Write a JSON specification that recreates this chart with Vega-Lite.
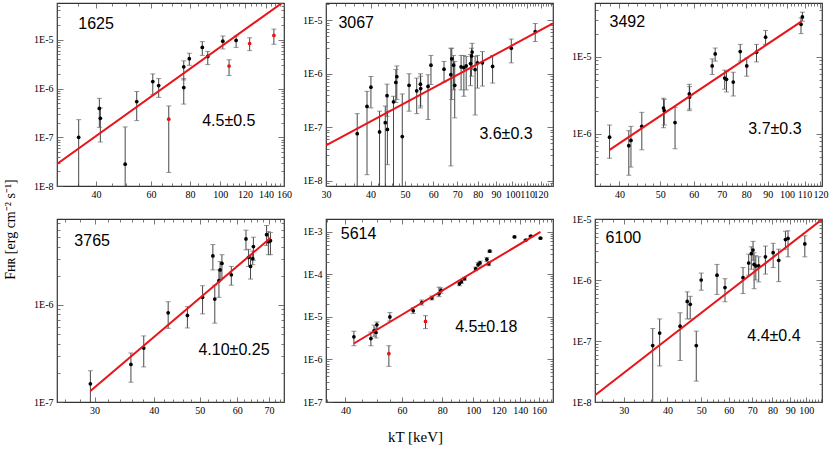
{
"$schema": "https://vega.github.io/schema/vega-lite/v6.json",
"padding": {"left": 2, "top": -2, "right": 0, "bottom": 0},
"bounds": "flush",
"columns": 3,
"spacing": {"row": 33, "column": 42},
"title": {"text": "kT [keV]", "orient": "bottom", "anchor": "middle", "font": "Liberation Serif", "fontSize": 15, "fontWeight": "normal", "color": "#000", "offset": 12},
"config": {
 "view": {"stroke": "#333", "strokeWidth": 1.2},
 "axis": {"domain": false, "grid": false, "labelFont": "Liberation Serif", "labelFontSize": 10, "labelColor": "#000", "tickColor": "#555", "tickWidth": 0.8, "labelOverlap": false, "labelFlush": false, "labelBound": false},
 "axisBottom": {"labelPadding": 8},
 "axisLeft": {"labelPadding": 10}
},
"concat": [
{
 "width": 227, "height": 183,
 "resolve": {"axis": {"x": "independent", "y": "independent"}},
 "data": {"values": [
  {"x":35.2,"y":1.0e-7,"lo":1e-9,"hi":2.3e-7,"c":"k"},
  {"x":41.0,"y":3.9e-7,"lo":1.6e-7,"hi":6.3e-7,"c":"k"},
  {"x":41.3,"y":2.45e-7,"lo":8e-8,"hi":4.0e-7,"c":"k"},
  {"x":49.6,"y":2.8e-8,"lo":1e-9,"hi":1.63e-7,"c":"k"},
  {"x":54.0,"y":5.4e-7,"lo":2.2e-7,"hi":8.7e-7,"c":"k"},
  {"x":60.8,"y":1.39e-6,"lo":7.5e-7,"hi":2.0e-6,"c":"k"},
  {"x":63.5,"y":1.15e-6,"lo":6.6e-7,"hi":1.6e-6,"c":"k"},
  {"x":76.4,"y":2.8e-6,"lo":1.5e-6,"hi":3.7e-6,"c":"k"},
  {"x":76.4,"y":1.05e-6,"lo":4.8e-7,"hi":1.6e-6,"c":"k"},
  {"x":79.6,"y":4.1e-6,"lo":3.0e-6,"hi":5.3e-6,"c":"k"},
  {"x":87.6,"y":7.0e-6,"lo":4.8e-6,"hi":9.2e-6,"c":"k"},
  {"x":91.2,"y":4.55e-6,"lo":3.1e-6,"hi":5.8e-6,"c":"k"},
  {"x":101.9,"y":9.4e-6,"lo":6.5e-6,"hi":1.2e-5,"c":"k"},
  {"x":112.4,"y":9.7e-6,"lo":7.0e-6,"hi":1.2e-5,"c":"k"},
  {"x":68.4,"y":2.35e-7,"lo":1.9e-8,"hi":4.4e-7,"c":"r"},
  {"x":106.7,"y":2.9e-6,"lo":1.85e-6,"hi":3.9e-6,"c":"r"},
  {"x":124.2,"y":8.4e-6,"lo":6.0e-6,"hi":1.1e-5,"c":"r"},
  {"x":148.5,"y":1.23e-5,"lo":8.1e-6,"hi":1.66e-5,"c":"r"}
 ]},
 "encoding": {"x": {"field": "x", "type": "quantitative", "scale": {"type": "log", "domain": [30, 160], "nice": false}, "axis": null}},
 "layer": [
  {"mark": {"type": "rule", "clip": true, "color": "#333", "strokeWidth": 0.9},
   "encoding": {
    "x": {"field": "x", "type": "quantitative", "scale": {"type": "log", "domain": [30, 160], "nice": false},
     "axis": {"title": null, "values": [30,35,40,45,50,55,60,65,70,75,80,85,90,95,100,105,110,115,120,125,130,135,140,145,150,155,160],
      "labelExpr": "indexof([40,60,80,100,120,140,160], datum.value) >= 0 ? '' + datum.value : ''",
      "tickSize": {"condition": {"test": "indexof([40,60,80,100,120,140,160], datum.value) >= 0", "value": -5}, "value": -3}}},
    "y": {"field": "lo", "type": "quantitative", "scale": {"type": "log", "domain": [1e-8, 5.7e-5], "nice": false},
     "axis": {"title": null, "values": [1e-8,2e-8,3e-8,4e-8,5e-8,6e-8,7e-8,8e-8,9e-8,1e-7,2e-7,3e-7,4e-7,5e-7,6e-7,7e-7,8e-7,9e-7,1e-6,2e-6,3e-6,4e-6,5e-6,6e-6,7e-6,8e-6,9e-6,1e-5,2e-5,3e-5,4e-5,5e-5],
       "labelExpr": "abs(log(datum.value)/LN10-round(log(datum.value)/LN10))<0.01 ? '1E' + round(log(datum.value)/LN10) : ''",
       "tickSize": {"condition": {"test": "abs(log(datum.value)/LN10-round(log(datum.value)/LN10))<0.01", "value": -6}, "value": -3}}},
    "y2": {"field": "hi"}}},
  {"mark": {"type": "tick", "orient": "horizontal", "clip": true, "color": "#666", "size": 5, "thickness": 1},
   "encoding": {"y": {"field": "lo", "type": "quantitative", "scale": {"type": "log", "domain": [1e-8, 5.7e-5], "nice": false}, "axis": null}}},
  {"mark": {"type": "tick", "orient": "horizontal", "clip": true, "color": "#666", "size": 5, "thickness": 1},
   "encoding": {"y": {"field": "hi", "type": "quantitative", "scale": {"type": "log", "domain": [1e-8, 5.7e-5], "nice": false}, "axis": null}}},
  {"mark": {"type": "circle", "clip": true, "size": 14, "opacity": 1},
   "encoding": {"y": {"field": "y", "type": "quantitative", "scale": {"type": "log", "domain": [1e-8, 5.7e-5], "nice": false}, "axis": null},
    "color": {"field": "c", "type": "nominal", "scale": {"domain": ["k", "r"], "range": ["#000000", "#e8141a"]}, "legend": null}}},
  {"data": {"values": [{"x": 30, "y": 2.83e-8}, {"x": 160, "y": 6.1e-5}]},
   "mark": {"type": "line", "clip": true, "color": "#e8141a", "strokeWidth": 2},
   "encoding": {
    "x": {"field": "x", "type": "quantitative", "scale": {"type": "log", "domain": [30, 160], "nice": false},
     "axis": {"title": null, "orient": "top", "labels": false, "values": [30,35,40,45,50,55,60,65,70,75,80,85,90,95,100,105,110,115,120,125,130,135,140,145,150,155,160],
      "tickSize": {"condition": {"test": "indexof([40,60,80,100,120,140,160], datum.value) >= 0", "value": -5}, "value": -3}}},
    "y": {"field": "y", "type": "quantitative", "scale": {"type": "log", "domain": [1e-8, 5.7e-5], "nice": false},
     "axis": {"title": null, "orient": "right", "labels": false, "values": [1e-8,2e-8,3e-8,4e-8,5e-8,6e-8,7e-8,8e-8,9e-8,1e-7,2e-7,3e-7,4e-7,5e-7,6e-7,7e-7,8e-7,9e-7,1e-6,2e-6,3e-6,4e-6,5e-6,6e-6,7e-6,8e-6,9e-6,1e-5,2e-5,3e-5,4e-5,5e-5],
       "tickSize": {"condition": {"test": "abs(log(datum.value)/LN10-round(log(datum.value)/LN10))<0.01", "value": -6}, "value": -3}}}}},
  {"data": {"values": [{"x": 35.1, "y": 2.1e-5, "t": "1625"}, {"x": 87.5, "y": 2.17e-7, "t": "4.5±0.5"}]},
   "mark": {"type": "text", "align": "left", "baseline": "middle", "font": "Liberation Sans", "fontSize": 16, "color": "#000"},
   "encoding": {"y": {"field": "y", "type": "quantitative", "scale": {"type": "log", "domain": [1e-8, 5.7e-5], "nice": false}, "axis": null}, "text": {"field": "t"}}}
 ]
},
{
 "width": 227, "height": 183,
 "resolve": {"axis": {"x": "independent", "y": "independent"}},
 "data": {"values": [
  {"x":36.7,"y":7.6e-8,"lo":1e-9,"hi":1.8e-7,"c":"k"},
  {"x":39.1,"y":2.45e-7,"lo":1.3e-8,"hi":4.7e-7,"c":"k"},
  {"x":40.1,"y":5.6e-7,"lo":2.3e-7,"hi":8.9e-7,"c":"k"},
  {"x":42.4,"y":8.2e-8,"lo":1e-9,"hi":2.0e-7,"c":"k"},
  {"x":44.0,"y":1.22e-7,"lo":1e-9,"hi":2.5e-7,"c":"k"},
  {"x":44.5,"y":3.9e-7,"lo":1.6e-7,"hi":6.4e-7,"c":"k"},
  {"x":44.6,"y":9.1e-8,"lo":2e-8,"hi":2.0e-7,"c":"k"},
  {"x":46.4,"y":3.0e-7,"lo":1e-9,"hi":3.8e-7,"c":"k"},
  {"x":47.1,"y":6.9e-7,"lo":2.9e-7,"hi":1.2e-6,"c":"k"},
  {"x":47.4,"y":8.8e-7,"lo":3.3e-7,"hi":1.4e-6,"c":"k"},
  {"x":49.1,"y":6.7e-8,"lo":1e-9,"hi":4.2e-7,"c":"k"},
  {"x":51.3,"y":6.1e-7,"lo":2.0e-7,"hi":1.0e-6,"c":"k"},
  {"x":53.9,"y":4.8e-7,"lo":1.8e-7,"hi":8.3e-7,"c":"k"},
  {"x":55.2,"y":6.4e-7,"lo":2.3e-7,"hi":1.0e-6,"c":"k"},
  {"x":55.3,"y":5.3e-7,"lo":2.5e-7,"hi":9e-7,"c":"k"},
  {"x":58.0,"y":5.8e-7,"lo":1.4e-7,"hi":9.6e-7,"c":"k"},
  {"x":59.1,"y":1.45e-6,"lo":6.3e-7,"hi":2.2e-6,"c":"k"},
  {"x":64.3,"y":1.22e-6,"lo":7e-7,"hi":1.7e-6,"c":"k"},
  {"x":67.2,"y":9.6e-7,"lo":1.9e-8,"hi":3.0e-6,"c":"k"},
  {"x":67.6,"y":1.9e-6,"lo":3.3e-7,"hi":3.0e-6,"c":"k"},
  {"x":68.4,"y":1.45e-6,"lo":5e-7,"hi":2.2e-6,"c":"k"},
  {"x":68.9,"y":6.1e-7,"lo":1.5e-7,"hi":1.7e-6,"c":"k"},
  {"x":71.8,"y":1.35e-6,"lo":5.0e-7,"hi":2.2e-6,"c":"k"},
  {"x":73.1,"y":1.3e-6,"lo":3.8e-7,"hi":2.2e-6,"c":"k"},
  {"x":74.2,"y":1.4e-6,"lo":5e-7,"hi":2.1e-6,"c":"k"},
  {"x":76.3,"y":1.55e-6,"lo":6e-7,"hi":2.3e-6,"c":"k"},
  {"x":76.8,"y":2.15e-6,"lo":9e-7,"hi":3.0e-6,"c":"k"},
  {"x":77.1,"y":2.55e-6,"lo":1.2e-6,"hi":3.7e-6,"c":"k"},
  {"x":78.6,"y":1.2e-6,"lo":1.7e-7,"hi":2.1e-6,"c":"k"},
  {"x":79.8,"y":1.6e-6,"lo":5.4e-7,"hi":2.2e-6,"c":"k"},
  {"x":82.4,"y":1.6e-6,"lo":5.9e-7,"hi":2.6e-6,"c":"k"},
  {"x":88.0,"y":1.37e-6,"lo":6.7e-7,"hi":2.2e-6,"c":"k"},
  {"x":99.3,"y":3.0e-6,"lo":1.6e-6,"hi":4.45e-6,"c":"k"},
  {"x":115.9,"y":6.1e-6,"lo":4.0e-6,"hi":8.7e-6,"c":"k"}
 ]},
 "encoding": {"x": {"field": "x", "type": "quantitative", "scale": {"type": "log", "domain": [30, 130], "nice": false}, "axis": null}},
 "layer": [
  {"mark": {"type": "rule", "clip": true, "color": "#333", "strokeWidth": 0.9},
   "encoding": {
    "x": {"field": "x", "type": "quantitative", "scale": {"type": "log", "domain": [30, 130], "nice": false},
     "axis": {"title": null, "values": [30,32,34,36,38,40,42,44,46,48,50,52,54,56,58,60,62,64,66,68,70,72,74,76,78,80,82,84,86,88,90,92,94,96,98,100,102,104,106,108,110,112,114,116,118,120,122,124,126,128,130],
      "labelExpr": "indexof([30,40,50,60,70,80,90,100,110,120], datum.value) >= 0 ? '' + datum.value : ''",
      "tickSize": {"condition": {"test": "indexof([30,40,50,60,70,80,90,100,110,120], datum.value) >= 0", "value": -5}, "value": -3}}},
    "y": {"field": "lo", "type": "quantitative", "scale": {"type": "log", "domain": [8e-9, 2.1e-5], "nice": false},
     "axis": {"title": null, "values": [8e-9,9e-9,1e-8,2e-8,3e-8,4e-8,5e-8,6e-8,7e-8,8e-8,9e-8,1e-7,2e-7,3e-7,4e-7,5e-7,6e-7,7e-7,8e-7,9e-7,1e-6,2e-6,3e-6,4e-6,5e-6,6e-6,7e-6,8e-6,9e-6,1e-5,2e-5],
       "labelExpr": "abs(log(datum.value)/LN10-round(log(datum.value)/LN10))<0.01 ? '1E' + round(log(datum.value)/LN10) : ''",
       "tickSize": {"condition": {"test": "abs(log(datum.value)/LN10-round(log(datum.value)/LN10))<0.01", "value": -6}, "value": -3}}},
    "y2": {"field": "hi"}}},
  {"mark": {"type": "tick", "orient": "horizontal", "clip": true, "color": "#666", "size": 5, "thickness": 1},
   "encoding": {"y": {"field": "lo", "type": "quantitative", "scale": {"type": "log", "domain": [8e-9, 2.1e-5], "nice": false}, "axis": null}}},
  {"mark": {"type": "tick", "orient": "horizontal", "clip": true, "color": "#666", "size": 5, "thickness": 1},
   "encoding": {"y": {"field": "hi", "type": "quantitative", "scale": {"type": "log", "domain": [8e-9, 2.1e-5], "nice": false}, "axis": null}}},
  {"mark": {"type": "circle", "clip": true, "size": 14, "opacity": 1},
   "encoding": {"y": {"field": "y", "type": "quantitative", "scale": {"type": "log", "domain": [8e-9, 2.1e-5], "nice": false}, "axis": null},
    "color": {"field": "c", "type": "nominal", "scale": {"domain": ["k", "r"], "range": ["#000000", "#e8141a"]}, "legend": null}}},
  {"data": {"values": [{"x": 30, "y": 4.6e-8}, {"x": 130, "y": 8.7e-6}]},
   "mark": {"type": "line", "clip": true, "color": "#e8141a", "strokeWidth": 2},
   "encoding": {
    "x": {"field": "x", "type": "quantitative", "scale": {"type": "log", "domain": [30, 130], "nice": false},
     "axis": {"title": null, "orient": "top", "labels": false, "values": [30,32,34,36,38,40,42,44,46,48,50,52,54,56,58,60,62,64,66,68,70,72,74,76,78,80,82,84,86,88,90,92,94,96,98,100,102,104,106,108,110,112,114,116,118,120,122,124,126,128,130],
      "tickSize": {"condition": {"test": "indexof([30,40,50,60,70,80,90,100,110,120], datum.value) >= 0", "value": -5}, "value": -3}}},
    "y": {"field": "y", "type": "quantitative", "scale": {"type": "log", "domain": [8e-9, 2.1e-5], "nice": false},
     "axis": {"title": null, "orient": "right", "labels": false, "values": [8e-9,9e-9,1e-8,2e-8,3e-8,4e-8,5e-8,6e-8,7e-8,8e-8,9e-8,1e-7,2e-7,3e-7,4e-7,5e-7,6e-7,7e-7,8e-7,9e-7,1e-6,2e-6,3e-6,4e-6,5e-6,6e-6,7e-6,8e-6,9e-6,1e-5,2e-5],
       "tickSize": {"condition": {"test": "abs(log(datum.value)/LN10-round(log(datum.value)/LN10))<0.01", "value": -6}, "value": -3}}}}},
  {"data": {"values": [{"x": 32.5, "y": 8.7e-6, "t": "3067"}, {"x": 80.8, "y": 7.6e-8, "t": "3.6±0.3"}]},
   "mark": {"type": "text", "align": "left", "baseline": "middle", "font": "Liberation Sans", "fontSize": 16, "color": "#000"},
   "encoding": {"y": {"field": "y", "type": "quantitative", "scale": {"type": "log", "domain": [8e-9, 2.1e-5], "nice": false}, "axis": null}, "text": {"field": "t"}}}
 ]
},
{
 "width": 227, "height": 183,
 "resolve": {"axis": {"x": "independent", "y": "independent"}},
 "data": {"values": [
  {"x":37.9,"y":9.05e-7,"lo":4.8e-7,"hi":1.3e-6,"c":"k"},
  {"x":42.1,"y":7.0e-7,"lo":2.9e-7,"hi":1.1e-6,"c":"k"},
  {"x":42.6,"y":8.2e-7,"lo":3.7e-7,"hi":1.25e-6,"c":"k"},
  {"x":45.2,"y":1.25e-6,"lo":6.2e-7,"hi":1.9e-6,"c":"k"},
  {"x":50.9,"y":2.16e-6,"lo":1.2e-6,"hi":2.9e-6,"c":"k"},
  {"x":51.1,"y":2.0e-6,"lo":1.3e-6,"hi":2.8e-6,"c":"k"},
  {"x":54.2,"y":1.4e-6,"lo":6.4e-7,"hi":2.2e-6,"c":"k"},
  {"x":58.6,"y":3.3e-6,"lo":2.0e-6,"hi":4.4e-6,"c":"k"},
  {"x":58.7,"y":3.0e-6,"lo":2.1e-6,"hi":4.1e-6,"c":"k"},
  {"x":66.4,"y":7.6e-6,"lo":5.9e-6,"hi":9.4e-6,"c":"k"},
  {"x":67.5,"y":1.09e-5,"lo":8.8e-6,"hi":1.3e-5,"c":"k"},
  {"x":71.1,"y":5.3e-6,"lo":3.8e-6,"hi":6.7e-6,"c":"k"},
  {"x":71.8,"y":5.1e-6,"lo":3.5e-6,"hi":6.4e-6,"c":"k"},
  {"x":74.5,"y":4.7e-6,"lo":3.1e-6,"hi":6.3e-6,"c":"k"},
  {"x":77.4,"y":1.17e-5,"lo":8.8e-6,"hi":1.45e-5,"c":"k"},
  {"x":80.2,"y":7.6e-6,"lo":5.6e-6,"hi":9.6e-6,"c":"k"},
  {"x":84.6,"y":1.15e-5,"lo":8.6e-6,"hi":1.45e-5,"c":"k"},
  {"x":88.9,"y":1.8e-5,"lo":1.45e-5,"hi":2.2e-5,"c":"k"},
  {"x":107.9,"y":2.64e-5,"lo":2.0e-5,"hi":3.2e-5,"c":"k"},
  {"x":108.7,"y":3.3e-5,"lo":2.9e-5,"hi":3.8e-5,"c":"k"}
 ]},
 "encoding": {"x": {"field": "x", "type": "quantitative", "scale": {"type": "log", "domain": [35, 121], "nice": false}, "axis": null}},
 "layer": [
  {"mark": {"type": "rule", "clip": true, "color": "#333", "strokeWidth": 0.9},
   "encoding": {
    "x": {"field": "x", "type": "quantitative", "scale": {"type": "log", "domain": [35, 121], "nice": false},
     "axis": {"title": null, "values": [36,38,40,42,44,46,48,50,52,54,56,58,60,62,64,66,68,70,72,74,76,78,80,82,84,86,88,90,92,94,96,98,100,102,104,106,108,110,112,114,116,118,120],
      "labelExpr": "indexof([40,50,60,70,80,90,100,110,120], datum.value) >= 0 ? '' + datum.value : ''",
      "tickSize": {"condition": {"test": "indexof([40,50,60,70,80,90,100,110,120], datum.value) >= 0", "value": -5}, "value": -3}}},
    "y": {"field": "lo", "type": "quantitative", "scale": {"type": "log", "domain": [2.1e-7, 5e-5], "nice": false},
     "axis": {"title": null, "values": [3e-7,4e-7,5e-7,6e-7,7e-7,8e-7,9e-7,1e-6,2e-6,3e-6,4e-6,5e-6,6e-6,7e-6,8e-6,9e-6,1e-5,2e-5,3e-5,4e-5],
       "labelExpr": "abs(log(datum.value)/LN10-round(log(datum.value)/LN10))<0.01 ? '1E' + round(log(datum.value)/LN10) : ''",
       "tickSize": {"condition": {"test": "abs(log(datum.value)/LN10-round(log(datum.value)/LN10))<0.01", "value": -6}, "value": -3}}},
    "y2": {"field": "hi"}}},
  {"mark": {"type": "tick", "orient": "horizontal", "clip": true, "color": "#666", "size": 5, "thickness": 1},
   "encoding": {"y": {"field": "lo", "type": "quantitative", "scale": {"type": "log", "domain": [2.1e-7, 5e-5], "nice": false}, "axis": null}}},
  {"mark": {"type": "tick", "orient": "horizontal", "clip": true, "color": "#666", "size": 5, "thickness": 1},
   "encoding": {"y": {"field": "hi", "type": "quantitative", "scale": {"type": "log", "domain": [2.1e-7, 5e-5], "nice": false}, "axis": null}}},
  {"mark": {"type": "circle", "clip": true, "size": 14, "opacity": 1},
   "encoding": {"y": {"field": "y", "type": "quantitative", "scale": {"type": "log", "domain": [2.1e-7, 5e-5], "nice": false}, "axis": null},
    "color": {"field": "c", "type": "nominal", "scale": {"domain": ["k", "r"], "range": ["#000000", "#e8141a"]}, "legend": null}}},
  {"data": {"values": [{"x": 37.9, "y": 6.2e-7}, {"x": 108, "y": 2.87e-5}]},
   "mark": {"type": "line", "clip": true, "color": "#e8141a", "strokeWidth": 2},
   "encoding": {
    "x": {"field": "x", "type": "quantitative", "scale": {"type": "log", "domain": [35, 121], "nice": false},
     "axis": {"title": null, "orient": "top", "labels": false, "values": [36,38,40,42,44,46,48,50,52,54,56,58,60,62,64,66,68,70,72,74,76,78,80,82,84,86,88,90,92,94,96,98,100,102,104,106,108,110,112,114,116,118,120],
      "tickSize": {"condition": {"test": "indexof([40,50,60,70,80,90,100,110,120], datum.value) >= 0", "value": -5}, "value": -3}}},
    "y": {"field": "y", "type": "quantitative", "scale": {"type": "log", "domain": [2.1e-7, 5e-5], "nice": false},
     "axis": {"title": null, "orient": "right", "labels": false, "values": [3e-7,4e-7,5e-7,6e-7,7e-7,8e-7,9e-7,1e-6,2e-6,3e-6,4e-6,5e-6,6e-6,7e-6,8e-6,9e-6,1e-5,2e-5,3e-5,4e-5],
       "tickSize": {"condition": {"test": "abs(log(datum.value)/LN10-round(log(datum.value)/LN10))<0.01", "value": -6}, "value": -3}}}}},
  {"data": {"values": [{"x": 37.9, "y": 2.87e-5, "t": "3492"}, {"x": 80.9, "y": 1.15e-6, "t": "3.7±0.3"}]},
   "mark": {"type": "text", "align": "left", "baseline": "middle", "font": "Liberation Sans", "fontSize": 16, "color": "#000"},
   "encoding": {"y": {"field": "y", "type": "quantitative", "scale": {"type": "log", "domain": [2.1e-7, 5e-5], "nice": false}, "axis": null}, "text": {"field": "t"}}}
 ]
},
{
 "width": 227, "height": 183,
 "resolve": {"axis": {"x": "independent", "y": "independent"}},
 "data": {"values": [
  {"x":29.4,"y":1.54e-7,"lo":9.5e-8,"hi":2.1e-7,"c":"k"},
  {"x":35.8,"y":2.44e-7,"lo":1.6e-7,"hi":3.2e-7,"c":"k"},
  {"x":38.1,"y":3.6e-7,"lo":2.3e-7,"hi":4.8e-7,"c":"k"},
  {"x":42.9,"y":8.3e-7,"lo":5.75e-7,"hi":1.08e-6,"c":"k"},
  {"x":47.1,"y":7.8e-7,"lo":5.8e-7,"hi":9.6e-7,"c":"k"},
  {"x":50.7,"y":1.2e-6,"lo":8.1e-7,"hi":1.58e-6,"c":"k"},
  {"x":53.3,"y":3.2e-6,"lo":2.3e-6,"hi":4.2e-6,"c":"k"},
  {"x":53.8,"y":1.15e-6,"lo":6.5e-7,"hi":1.6e-6,"c":"k"},
  {"x":54.9,"y":1.78e-6,"lo":1.2e-6,"hi":2.3e-6,"c":"k"},
  {"x":55.2,"y":2.3e-6,"lo":1.8e-6,"hi":2.8e-6,"c":"k"},
  {"x":55.7,"y":2.68e-6,"lo":1.9e-6,"hi":3.3e-6,"c":"k"},
  {"x":58.3,"y":2.05e-6,"lo":1.6e-6,"hi":2.5e-6,"c":"k"},
  {"x":62.6,"y":4.8e-6,"lo":3.7e-6,"hi":5.9e-6,"c":"k"},
  {"x":63.4,"y":3.1e-6,"lo":2.5e-6,"hi":3.75e-6,"c":"k"},
  {"x":64.0,"y":2.5e-6,"lo":1.85e-6,"hi":3.2e-6,"c":"k"},
  {"x":64.7,"y":3.0e-6,"lo":2.6e-6,"hi":3.6e-6,"c":"k"},
  {"x":64.9,"y":4.0e-6,"lo":2.9e-6,"hi":5.0e-6,"c":"k"},
  {"x":69.2,"y":5.3e-6,"lo":4.1e-6,"hi":6.6e-6,"c":"k"},
  {"x":69.8,"y":4.5e-6,"lo":3.3e-6,"hi":5.7e-6,"c":"k"},
  {"x":70.5,"y":4.6e-6,"lo":3.3e-6,"hi":5.6e-6,"c":"k"}
 ]},
 "encoding": {"x": {"field": "x", "type": "quantitative", "scale": {"type": "log", "domain": [25, 75.3], "nice": false}, "axis": null}},
 "layer": [
  {"mark": {"type": "rule", "clip": true, "color": "#333", "strokeWidth": 0.9},
   "encoding": {
    "x": {"field": "x", "type": "quantitative", "scale": {"type": "log", "domain": [25, 75.3], "nice": false},
     "axis": {"title": null, "values": [26,28,30,32,34,36,38,40,42,44,46,48,50,52,54,56,58,60,62,64,66,68,70,72,74],
      "labelExpr": "indexof([30,40,50,60,70], datum.value) >= 0 ? '' + datum.value : ''",
      "tickSize": {"condition": {"test": "indexof([30,40,50,60,70], datum.value) >= 0", "value": -5}, "value": -3}}},
    "y": {"field": "lo", "type": "quantitative", "scale": {"type": "log", "domain": [1e-7, 7.7e-6], "nice": false},
     "axis": {"values": [1e-7,2e-7,3e-7,4e-7,5e-7,6e-7,7e-7,8e-7,9e-7,1e-6,2e-6,3e-6,4e-6,5e-6,6e-6,7e-6],
       "labelExpr": "abs(log(datum.value)/LN10-round(log(datum.value)/LN10))<0.01 ? '1E' + round(log(datum.value)/LN10) : ''",
       "tickSize": {"condition": {"test": "abs(log(datum.value)/LN10-round(log(datum.value)/LN10))<0.01", "value": -6}, "value": -3},
       "title": "Fʜʀ [erg cm⁻² s⁻¹]", "titleFont": "Liberation Serif", "titleFontSize": 14, "titleFontWeight": "normal", "titleColor": "#000",
       "titleX": -47, "titleY": 10, "titleAngle": 270, "titleAlign": "center", "titleBaseline": "middle"}},
    "y2": {"field": "hi"}}},
  {"mark": {"type": "tick", "orient": "horizontal", "clip": true, "color": "#666", "size": 5, "thickness": 1},
   "encoding": {"y": {"field": "lo", "type": "quantitative", "scale": {"type": "log", "domain": [1e-7, 7.7e-6], "nice": false}, "axis": null}}},
  {"mark": {"type": "tick", "orient": "horizontal", "clip": true, "color": "#666", "size": 5, "thickness": 1},
   "encoding": {"y": {"field": "hi", "type": "quantitative", "scale": {"type": "log", "domain": [1e-7, 7.7e-6], "nice": false}, "axis": null}}},
  {"mark": {"type": "circle", "clip": true, "size": 14, "opacity": 1},
   "encoding": {"y": {"field": "y", "type": "quantitative", "scale": {"type": "log", "domain": [1e-7, 7.7e-6], "nice": false}, "axis": null},
    "color": {"field": "c", "type": "nominal", "scale": {"domain": ["k", "r"], "range": ["#000000", "#e8141a"]}, "legend": null}}},
  {"data": {"values": [{"x": 29.4, "y": 1.3e-7}, {"x": 70.5, "y": 4.9e-6}]},
   "mark": {"type": "line", "clip": true, "color": "#e8141a", "strokeWidth": 2},
   "encoding": {
    "x": {"field": "x", "type": "quantitative", "scale": {"type": "log", "domain": [25, 75.3], "nice": false},
     "axis": {"title": null, "orient": "top", "labels": false, "values": [26,28,30,32,34,36,38,40,42,44,46,48,50,52,54,56,58,60,62,64,66,68,70,72,74],
      "tickSize": {"condition": {"test": "indexof([30,40,50,60,70], datum.value) >= 0", "value": -5}, "value": -3}}},
    "y": {"field": "y", "type": "quantitative", "scale": {"type": "log", "domain": [1e-7, 7.7e-6], "nice": false},
     "axis": {"title": null, "orient": "right", "labels": false, "values": [1e-7,2e-7,3e-7,4e-7,5e-7,6e-7,7e-7,8e-7,9e-7,1e-6,2e-6,3e-6,4e-6,5e-6,6e-6,7e-6],
       "tickSize": {"condition": {"test": "abs(log(datum.value)/LN10-round(log(datum.value)/LN10))<0.01", "value": -6}, "value": -3}}}}},
  {"data": {"values": [{"x": 27.2, "y": 4.6e-6, "t": "3765"}, {"x": 49.7, "y": 3.45e-7, "t": "4.10±0.25"}]},
   "mark": {"type": "text", "align": "left", "baseline": "middle", "font": "Liberation Sans", "fontSize": 16, "color": "#000"},
   "encoding": {"y": {"field": "y", "type": "quantitative", "scale": {"type": "log", "domain": [1e-7, 7.7e-6], "nice": false}, "axis": null}, "text": {"field": "t"}}}
 ]
},
{
 "width": 227, "height": 183,
 "resolve": {"axis": {"x": "independent", "y": "independent"}},
 "data": {"values": [
  {"x":42.5,"y":3.4e-6,"lo":2.1e-6,"hi":4.6e-6,"c":"k"},
  {"x":48.0,"y":3.1e-6,"lo":2.1e-6,"hi":4.4e-6,"c":"k"},
  {"x":49.1,"y":4.7e-6,"lo":3.5e-6,"hi":6.4e-6,"c":"k"},
  {"x":49.8,"y":4.3e-6,"lo":3.2e-6,"hi":5.5e-6,"c":"k"},
  {"x":50.1,"y":6.5e-6,"lo":5.2e-6,"hi":7.6e-6,"c":"k"},
  {"x":55.0,"y":1.0e-5,"lo":8e-6,"hi":1.26e-5,"c":"k"},
  {"x":65.0,"y":1.4e-5,"lo":1.2e-5,"hi":1.65e-5,"c":"k"},
  {"x":69.1,"y":2.17e-5,"lo":1.9e-5,"hi":2.5e-5,"c":"k"},
  {"x":74.3,"y":2.8e-5,"lo":2.5e-5,"hi":3.1e-5,"c":"k"},
  {"x":78.2,"y":3.5e-5,"lo":3.0e-5,"hi":5.0e-5,"c":"k"},
  {"x":79.3,"y":4.2e-5,"lo":3.6e-5,"hi":4.8e-5,"c":"k"},
  {"x":90.5,"y":6.0e-5,"lo":5.4e-5,"hi":6.6e-5,"c":"k"},
  {"x":91.8,"y":6.7e-5,"lo":6.2e-5,"hi":7.2e-5,"c":"k"},
  {"x":93.9,"y":7.9e-5,"lo":7.3e-5,"hi":8.5e-5,"c":"k"},
  {"x":101.7,"y":1.35e-4,"lo":1.22e-4,"hi":1.48e-4,"c":"k"},
  {"x":103.5,"y":1.7e-4,"lo":1.5e-4,"hi":1.9e-4,"c":"k"},
  {"x":104.9,"y":1.85e-4,"lo":1.65e-4,"hi":2.05e-4,"c":"k"},
  {"x":110.2,"y":2.25e-4,"lo":2.0e-4,"hi":2.5e-4,"c":"k"},
  {"x":111.7,"y":1.78e-4,"lo":1.6e-4,"hi":1.95e-4,"c":"k"},
  {"x":112.5,"y":3.5e-4,"lo":3.3e-4,"hi":3.7e-4,"c":"k"},
  {"x":134.3,"y":7.6e-4,"lo":7.3e-4,"hi":7.9e-4,"c":"k"},
  {"x":145.7,"y":6.4e-4,"lo":6.2e-4,"hi":6.6e-4,"c":"k"},
  {"x":151,"y":7.9e-4,"lo":7.6e-4,"hi":8.2e-4,"c":"k"},
  {"x":161.8,"y":7.1e-4,"lo":6.8e-4,"hi":7.4e-4,"c":"k"},
  {"x":54.6,"y":1.37e-6,"lo":6.9e-7,"hi":2.1e-6,"c":"r"},
  {"x":71.0,"y":7.8e-6,"lo":5.3e-6,"hi":1.07e-5,"c":"r"}
 ]},
 "encoding": {"x": {"field": "x", "type": "quantitative", "scale": {"type": "log", "domain": [34.8, 177], "nice": false}, "axis": null}},
 "layer": [
  {"mark": {"type": "rule", "clip": true, "color": "#333", "strokeWidth": 0.9},
   "encoding": {
    "x": {"field": "x", "type": "quantitative", "scale": {"type": "log", "domain": [34.8, 177], "nice": false},
     "axis": {"title": null, "values": [35,40,45,50,55,60,65,70,75,80,85,90,95,100,105,110,115,120,125,130,135,140,145,150,155,160,165,170,175],
      "labelExpr": "indexof([40,60,80,100,120,140,160], datum.value) >= 0 ? '' + datum.value : ''",
      "tickSize": {"condition": {"test": "indexof([40,60,80,100,120,140,160], datum.value) >= 0", "value": -5}, "value": -3}}},
    "y": {"field": "lo", "type": "quantitative", "scale": {"type": "log", "domain": [1e-7, 2e-3], "nice": false},
     "axis": {"title": null, "values": [1e-7,2e-7,3e-7,4e-7,5e-7,6e-7,7e-7,8e-7,9e-7,1e-6,2e-6,3e-6,4e-6,5e-6,6e-6,7e-6,8e-6,9e-6,1e-5,2e-5,3e-5,4e-5,5e-5,6e-5,7e-5,8e-5,9e-5,1e-4,2e-4,3e-4,4e-4,5e-4,6e-4,7e-4,8e-4,9e-4,1e-3],
       "labelExpr": "abs(log(datum.value)/LN10-round(log(datum.value)/LN10))<0.01 ? '1E' + round(log(datum.value)/LN10) : ''",
       "tickSize": {"condition": {"test": "abs(log(datum.value)/LN10-round(log(datum.value)/LN10))<0.01", "value": -6}, "value": -3}}},
    "y2": {"field": "hi"}}},
  {"mark": {"type": "tick", "orient": "horizontal", "clip": true, "color": "#666", "size": 5, "thickness": 1},
   "encoding": {"y": {"field": "lo", "type": "quantitative", "scale": {"type": "log", "domain": [1e-7, 2e-3], "nice": false}, "axis": null}}},
  {"mark": {"type": "tick", "orient": "horizontal", "clip": true, "color": "#666", "size": 5, "thickness": 1},
   "encoding": {"y": {"field": "hi", "type": "quantitative", "scale": {"type": "log", "domain": [1e-7, 2e-3], "nice": false}, "axis": null}}},
  {"mark": {"type": "circle", "clip": true, "size": 14, "opacity": 1},
   "encoding": {"y": {"field": "y", "type": "quantitative", "scale": {"type": "log", "domain": [1e-7, 2e-3], "nice": false}, "axis": null},
    "color": {"field": "c", "type": "nominal", "scale": {"domain": ["k", "r"], "range": ["#000000", "#e8141a"]}, "legend": null}}},
  {"data": {"values": [{"x": 42.5, "y": 2.37e-6}, {"x": 161.8, "y": 1.0e-3}]},
   "mark": {"type": "line", "clip": true, "color": "#e8141a", "strokeWidth": 2},
   "encoding": {
    "x": {"field": "x", "type": "quantitative", "scale": {"type": "log", "domain": [34.8, 177], "nice": false},
     "axis": {"title": null, "orient": "top", "labels": false, "values": [35,40,45,50,55,60,65,70,75,80,85,90,95,100,105,110,115,120,125,130,135,140,145,150,155,160,165,170,175],
      "tickSize": {"condition": {"test": "indexof([40,60,80,100,120,140,160], datum.value) >= 0", "value": -5}, "value": -3}}},
    "y": {"field": "y", "type": "quantitative", "scale": {"type": "log", "domain": [1e-7, 2e-3], "nice": false},
     "axis": {"title": null, "orient": "right", "labels": false, "values": [1e-7,2e-7,3e-7,4e-7,5e-7,6e-7,7e-7,8e-7,9e-7,1e-6,2e-6,3e-6,4e-6,5e-6,6e-6,7e-6,8e-6,9e-6,1e-5,2e-5,3e-5,4e-5,5e-5,6e-5,7e-5,8e-5,9e-5,1e-4,2e-4,3e-4,4e-4,5e-4,6e-4,7e-4,8e-4,9e-4,1e-3],
       "tickSize": {"condition": {"test": "abs(log(datum.value)/LN10-round(log(datum.value)/LN10))<0.01", "value": -6}, "value": -3}}}}},
  {"data": {"values": [{"x": 38.7, "y": 9.1e-4, "t": "5614"}, {"x": 87.8, "y": 5.9e-6, "t": "4.5±0.18"}]},
   "mark": {"type": "text", "align": "left", "baseline": "middle", "font": "Liberation Sans", "fontSize": 16, "color": "#000"},
   "encoding": {"y": {"field": "y", "type": "quantitative", "scale": {"type": "log", "domain": [1e-7, 2e-3], "nice": false}, "axis": null}, "text": {"field": "t"}}}
 ]
},
{
 "width": 227, "height": 183,
 "resolve": {"axis": {"x": "independent", "y": "independent"}},
 "data": {"values": [
  {"x":36.3,"y":8.4e-8,"lo":1e-9,"hi":1.6e-7,"c":"k"},
  {"x":38.0,"y":1.35e-7,"lo":3.9e-8,"hi":2.3e-7,"c":"k"},
  {"x":43.5,"y":1.75e-7,"lo":4.8e-8,"hi":2.9e-7,"c":"k"},
  {"x":45.6,"y":4.45e-7,"lo":2.3e-7,"hi":6.4e-7,"c":"k"},
  {"x":46.5,"y":4.0e-7,"lo":2.3e-7,"hi":5.4e-7,"c":"k"},
  {"x":48.4,"y":8.4e-8,"lo":2.2e-8,"hi":1.45e-7,"c":"k"},
  {"x":50.0,"y":1.0e-6,"lo":6.8e-7,"hi":1.3e-6,"c":"k"},
  {"x":55.5,"y":1.2e-6,"lo":5.8e-7,"hi":1.8e-6,"c":"k"},
  {"x":58.5,"y":7.5e-7,"lo":4.4e-7,"hi":1.05e-6,"c":"k"},
  {"x":65.9,"y":1.09e-6,"lo":6e-7,"hi":1.6e-6,"c":"k"},
  {"x":68.4,"y":1.9e-6,"lo":1.2e-6,"hi":2.65e-6,"c":"k"},
  {"x":69.6,"y":2.7e-6,"lo":1.5e-6,"hi":3.5e-6,"c":"k"},
  {"x":70.4,"y":3.1e-6,"lo":2.1e-6,"hi":4.3e-6,"c":"k"},
  {"x":70.9,"y":1.8e-6,"lo":7.2e-7,"hi":2.8e-6,"c":"k"},
  {"x":71.7,"y":1.7e-6,"lo":1.0e-6,"hi":2.5e-6,"c":"k"},
  {"x":73.1,"y":1.7e-6,"lo":9.3e-7,"hi":2.4e-6,"c":"k"},
  {"x":76.4,"y":2.4e-6,"lo":1.25e-6,"hi":3.6e-6,"c":"k"},
  {"x":80.4,"y":2.8e-6,"lo":1.6e-6,"hi":4.0e-6,"c":"k"},
  {"x":83.4,"y":2.1e-6,"lo":9.4e-7,"hi":3.2e-6,"c":"k"},
  {"x":87.2,"y":4.6e-6,"lo":3.2e-6,"hi":6.3e-6,"c":"k"},
  {"x":88.7,"y":4.8e-6,"lo":2.4e-6,"hi":6.4e-6,"c":"k"},
  {"x":99.1,"y":3.9e-6,"lo":2.4e-6,"hi":5.3e-6,"c":"k"}
 ]},
 "encoding": {"x": {"field": "x", "type": "quantitative", "scale": {"type": "log", "domain": [24.8, 111], "nice": false}, "axis": null}},
 "layer": [
  {"mark": {"type": "rule", "clip": true, "color": "#333", "strokeWidth": 0.9},
   "encoding": {
    "x": {"field": "x", "type": "quantitative", "scale": {"type": "log", "domain": [24.8, 111], "nice": false},
     "axis": {"title": null, "values": [26,28,30,32,34,36,38,40,42,44,46,48,50,52,54,56,58,60,62,64,66,68,70,72,74,76,78,80,82,84,86,88,90,92,94,96,98,100,102,104,106,108,110],
      "labelExpr": "indexof([30,40,50,60,70,80,90,100], datum.value) >= 0 ? '' + datum.value : ''",
      "tickSize": {"condition": {"test": "indexof([30,40,50,60,70,80,90,100], datum.value) >= 0", "value": -5}, "value": -3}}},
    "y": {"field": "lo", "type": "quantitative", "scale": {"type": "log", "domain": [1e-8, 1e-5], "nice": false},
     "axis": {"title": null, "values": [1e-8,2e-8,3e-8,4e-8,5e-8,6e-8,7e-8,8e-8,9e-8,1e-7,2e-7,3e-7,4e-7,5e-7,6e-7,7e-7,8e-7,9e-7,1e-6,2e-6,3e-6,4e-6,5e-6,6e-6,7e-6,8e-6,9e-6,1e-5],
       "labelExpr": "abs(log(datum.value)/LN10-round(log(datum.value)/LN10))<0.01 ? '1E' + round(log(datum.value)/LN10) : ''",
       "tickSize": {"condition": {"test": "abs(log(datum.value)/LN10-round(log(datum.value)/LN10))<0.01", "value": -6}, "value": -3}}},
    "y2": {"field": "hi"}}},
  {"mark": {"type": "tick", "orient": "horizontal", "clip": true, "color": "#666", "size": 5, "thickness": 1},
   "encoding": {"y": {"field": "lo", "type": "quantitative", "scale": {"type": "log", "domain": [1e-8, 1e-5], "nice": false}, "axis": null}}},
  {"mark": {"type": "tick", "orient": "horizontal", "clip": true, "color": "#666", "size": 5, "thickness": 1},
   "encoding": {"y": {"field": "hi", "type": "quantitative", "scale": {"type": "log", "domain": [1e-8, 1e-5], "nice": false}, "axis": null}}},
  {"mark": {"type": "circle", "clip": true, "size": 14, "opacity": 1},
   "encoding": {"y": {"field": "y", "type": "quantitative", "scale": {"type": "log", "domain": [1e-8, 1e-5], "nice": false}, "axis": null},
    "color": {"field": "c", "type": "nominal", "scale": {"domain": ["k", "r"], "range": ["#000000", "#e8141a"]}, "legend": null}}},
  {"data": {"values": [{"x": 24.7, "y": 1.27e-8}, {"x": 111.4, "y": 1.0e-5}]},
   "mark": {"type": "line", "clip": true, "color": "#e8141a", "strokeWidth": 2},
   "encoding": {
    "x": {"field": "x", "type": "quantitative", "scale": {"type": "log", "domain": [24.8, 111], "nice": false},
     "axis": {"title": null, "orient": "top", "labels": false, "values": [26,28,30,32,34,36,38,40,42,44,46,48,50,52,54,56,58,60,62,64,66,68,70,72,74,76,78,80,82,84,86,88,90,92,94,96,98,100,102,104,106,108,110],
      "tickSize": {"condition": {"test": "indexof([30,40,50,60,70,80,90,100], datum.value) >= 0", "value": -5}, "value": -3}}},
    "y": {"field": "y", "type": "quantitative", "scale": {"type": "log", "domain": [1e-8, 1e-5], "nice": false},
     "axis": {"title": null, "orient": "right", "labels": false, "values": [1e-8,2e-8,3e-8,4e-8,5e-8,6e-8,7e-8,8e-8,9e-8,1e-7,2e-7,3e-7,4e-7,5e-7,6e-7,7e-7,8e-7,9e-7,1e-6,2e-6,3e-6,4e-6,5e-6,6e-6,7e-6,8e-6,9e-6,1e-5],
       "tickSize": {"condition": {"test": "abs(log(datum.value)/LN10-round(log(datum.value)/LN10))<0.01", "value": -6}, "value": -3}}}}},
  {"data": {"values": [{"x": 26.6, "y": 4.8e-6, "t": "6100"}, {"x": 67.8, "y": 1.19e-7, "t": "4.4±0.4"}]},
   "mark": {"type": "text", "align": "left", "baseline": "middle", "font": "Liberation Sans", "fontSize": 16, "color": "#000"},
   "encoding": {"y": {"field": "y", "type": "quantitative", "scale": {"type": "log", "domain": [1e-8, 1e-5], "nice": false}, "axis": null}, "text": {"field": "t"}}}
 ]
}
]
}
